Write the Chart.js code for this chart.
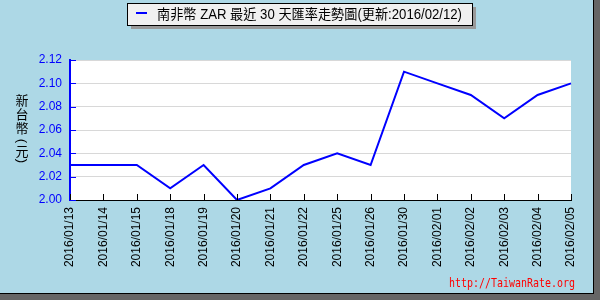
<!DOCTYPE html>
<html>
<head>
<meta charset="utf-8">
<script src="https://cdn.jsdelivr.net/npm/chart.js@4.4.1/dist/chart.umd.min.js"></script>
<style>
  body { margin: 0; background: #add8e6; }
  #wrap { width: 600px; height: 300px; position: relative; }
</style>
</head>
<body>
<div id="wrap"><canvas id="rateChart"></canvas></div>
<script>
const dates = ["2016/01/13", "2016/01/14", "2016/01/15", "2016/01/18", "2016/01/19", "2016/01/20",
  "2016/01/21", "2016/01/22", "2016/01/25", "2016/01/26", "2016/01/30", "2016/02/01",
  "2016/02/02", "2016/02/03", "2016/02/04", "2016/02/05"];
const rates = [2.03, 2.03, 2.03, 2.01, 2.03, 2.00, 2.01, 2.03, 2.04, 2.03, 2.11, 2.10, 2.09, 2.07, 2.09, 2.10];
const legendTitle = "南非幣 ZAR 最近 30 天匯率走勢圖(更新:2016/02/12)";
const yTitle = ["新", "台", "幣", "(", "元", ")"];
const footer = "http://TaiwanRate.org";

const framePlugin = {
  id: "frame",
  beforeDraw(chart) {
    const ctx = chart.ctx;
    const a = chart.chartArea;
    ctx.save();
    ctx.fillStyle = "#add8e6";
    ctx.fillRect(0, 0, 600, 300);
    // outer frame, dark strip on right and bottom
    ctx.fillStyle = "#666666";
    ctx.fillRect(594, 0, 6, 300);
    ctx.fillRect(0, 294, 600, 6);
    ctx.fillStyle = "#000";
    ctx.fillRect(593, 0, 1, 294);
    ctx.fillRect(0, 293, 594, 1);
    ctx.fillStyle = "#ffffff";
    ctx.fillRect(a.left, a.top, a.right - a.left, a.bottom - a.top);
    ctx.restore();
  },
  afterDraw(chart) {
    const ctx = chart.ctx;
    const a = chart.chartArea;
    const x = chart.scales.x;
    const y = chart.scales.y;
    ctx.save();
    // ticks drawn inside the plot
    ctx.lineWidth = 1;
    ctx.strokeStyle = "#000";
    x.ticks.forEach(function (t, i) {
      const px = Math.round(x.getPixelForTick(i)) + 0.5;
      ctx.beginPath();
      ctx.moveTo(px, a.bottom);
      ctx.lineTo(px, a.bottom - 6);
      ctx.stroke();
    });
    ctx.strokeStyle = "#0000ff";
    y.ticks.forEach(function (t, i) {
      const py = Math.round(y.getPixelForTick(i)) + 0.5;
      ctx.beginPath();
      ctx.moveTo(a.left, py);
      ctx.lineTo(a.left + 6, py);
      ctx.stroke();
    });

    // legend box
    ctx.fillStyle = "#999999";
    ctx.fillRect(131, 7, 345, 22);
    ctx.fillStyle = "#f0f0f0";
    ctx.fillRect(128, 4, 344, 21);
    ctx.strokeStyle = "#000";
    ctx.strokeRect(127.5, 3.5, 345, 22);
    ctx.fillStyle = "#0000ff";
    ctx.fillRect(136, 12, 11, 2);
    ctx.fillStyle = "#000";
    ctx.font = "14px 'Liberation Sans', 'Noto Sans CJK TC'";
    ctx.textBaseline = "middle";
    ctx.textAlign = "left";
    ctx.fillText(legendTitle, 157, 15, 305);

    // vertical axis title, one character per row, brackets turned
    ctx.font = "13px 'Noto Sans CJK TC'";
    ctx.textAlign = "center";
    const ys = [100, 114, 128, 141, 151, 161];
    yTitle.forEach(function (c, i) {
      if (c === "(" || c === ")") {
        ctx.save();
        ctx.translate(22, ys[i]);
        ctx.rotate(Math.PI / 2);
        ctx.font = "13px 'Liberation Sans'";
        ctx.fillText(c, 0, 0);
        ctx.restore();
      } else {
        ctx.fillText(c, 22, ys[i]);
      }
    });

    // footer
    ctx.fillStyle = "#ff0000";
    ctx.font = "13px 'DejaVu Sans Mono'";
    ctx.textAlign = "left";
    ctx.fillText(footer, 449, 284, 126);
    ctx.restore();
  }
};

new Chart(document.getElementById("rateChart"), {
  type: "line",
  data: {
    labels: dates,
    datasets: [{
      label: legendTitle,
      data: rates,
      borderColor: "#0000ff",
      borderWidth: 2,
      tension: 0,
      fill: false,
      pointRadius: 0
    }]
  },
  options: {
    responsive: true,
    maintainAspectRatio: false,
    animation: false,
    layout: { padding: { top: 60, right: 29, left: 0, bottom: 0 } },
    plugins: {
      legend: { display: false },
      tooltip: { enabled: false }
    },
    scales: {
      x: {
        offset: false,
        afterFit: function (scale) { scale.height = 100; },
        grid: { display: false, drawTicks: false },
        border: { color: "#000", width: 1 },
        ticks: {
          minRotation: 90,
          maxRotation: 90,
          autoSkip: false,
          padding: 7,
          color: "#000",
          font: { size: 12, family: "'Liberation Sans', sans-serif" }
        }
      },
      y: {
        min: 2.00,
        max: 2.12,
        afterFit: function (scale) { scale.width = 70; },
        grid: { color: "#d8d8d8", drawTicks: false },
        border: { color: "#0000ff", width: 2 },
        ticks: {
          stepSize: 0.01,
          padding: 8,
          color: "#0000ff",
          font: { size: 12, family: "'Liberation Sans', sans-serif" },
          callback: function (value) {
            const n = Math.round(value * 100);
            return n % 2 === 0 ? value.toFixed(2) : "";
          }
        }
      }
    }
  },
  plugins: [framePlugin]
});
</script>
</body>
</html>
